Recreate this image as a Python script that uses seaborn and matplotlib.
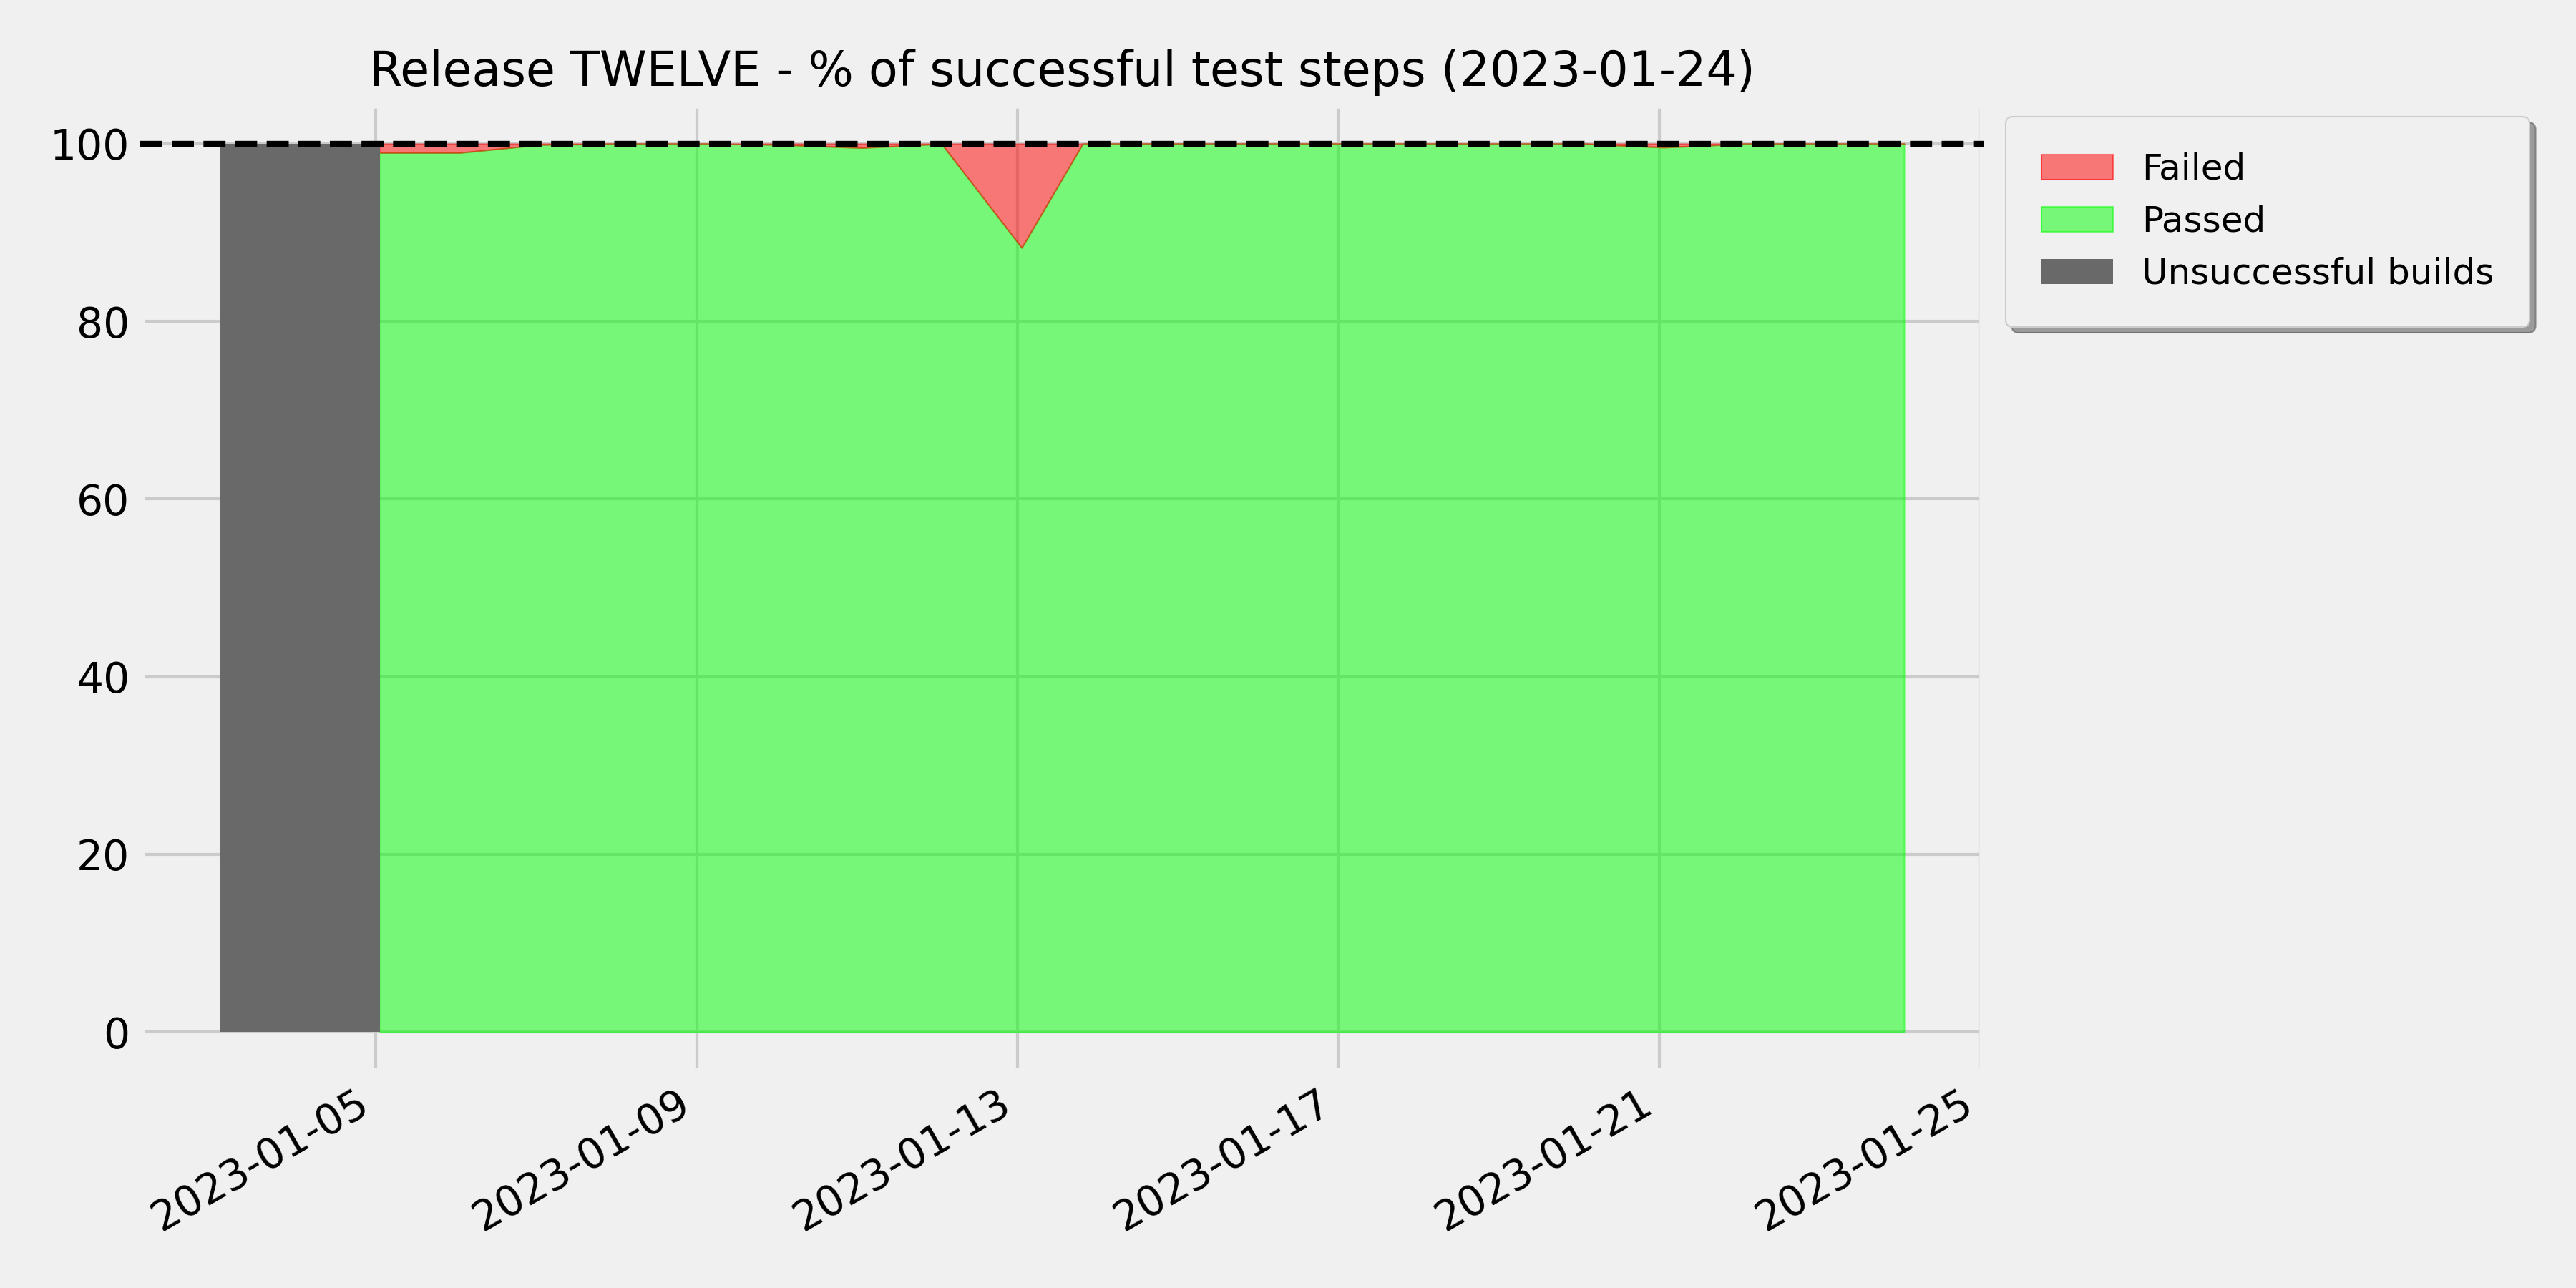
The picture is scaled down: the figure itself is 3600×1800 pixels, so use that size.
import pandas as pd
import numpy as np
import matplotlib
matplotlib.use("Agg")
import matplotlib.pyplot as plt
import matplotlib.dates as mdates
import seaborn as sns

# Test-step results per nightly run (% of steps)
run_dates = ["2023-01-05 01:15", "2023-01-06 01:15", "2023-01-07 01:15", "2023-01-08 01:15",
             "2023-01-09 01:15", "2023-01-10 01:15", "2023-01-11 01:15", "2023-01-12 01:15",
             "2023-01-13 01:15", "2023-01-13 19:30", "2023-01-15 01:15", "2023-01-16 01:15",
             "2023-01-17 01:15", "2023-01-18 01:15", "2023-01-19 01:15", "2023-01-20 01:15",
             "2023-01-21 01:15", "2023-01-22 01:15", "2023-01-23 01:15", "2023-01-24 01:15"]
passed_pct = [99.0, 99.0, 99.9, 100.0, 100.0, 99.9, 99.55, 100.0, 88.3, 100.0,
              100.0, 100.0, 100.0, 100.0, 100.0, 100.0, 99.6, 100.0, 100.0, 100.0]
failed_pct = [1.0, 1.0, 0.1, 0.0, 0.0, 0.1, 0.45, 0.0, 11.7, 0.0,
              0.0, 0.0, 0.0, 0.0, 0.0, 0.0, 0.4, 0.0, 0.0, 0.0]

# Days where the build itself failed
bad_build_dates = ["2023-01-03 01:15", "2023-01-04 01:15", "2023-01-05 01:15"]
bad_build_pct = [100, 100, 100]

release = "TWELVE"
report_day = "2023-01-24"
x_range = ("2023-01-02 01:30", "2023-01-25 01:00")

df = pd.DataFrame({"date": pd.to_datetime(run_dates), "Passed": passed_pct, "Failed": failed_pct})
bad = pd.DataFrame({"date": pd.to_datetime(bad_build_dates), "pct": bad_build_pct})

sns.set_theme(style="darkgrid", rc={
    "axes.facecolor": "#f0f0f0", "figure.facecolor": "#f0f0f0", "savefig.facecolor": "#f0f0f0",
    "axes.edgecolor": "#f0f0f0", "axes.linewidth": 3.0,
    "grid.color": "#cbcbcb", "grid.linewidth": 1.0, "grid.linestyle": "-",
    "font.size": 14, "xtick.labelsize": 14, "ytick.labelsize": 14,
    "axes.titlesize": 16, "legend.fontsize": 12,
    "xtick.major.size": 0, "ytick.major.size": 0,
    "patch.linewidth": 0.5, "patch.force_edgecolor": False,
    "legend.fancybox": True, "axes.axisbelow": True,
    "text.color": "black", "xtick.color": "black", "ytick.color": "black",
})

fig, ax = plt.subplots(figsize=(12, 6))
fig.subplots_adjust(left=0.0544, right=0.770, bottom=0.1678, top=0.9194)

colors = ["lime", "red"]
polys = ax.stackplot(df["date"], df["Passed"], df["Failed"], colors=colors, alpha=0.5,
                     labels=["Passed", "Failed"])
for p, c in zip(polys, colors):
    p.set_edgecolor(c)
    p.set_linewidth(0.5)

gray = ax.fill_between(bad["date"], 0, bad["pct"], color="dimgray", linewidth=0,
                       label="Unsuccessful builds")

ax.axhline(100, color="black", linestyle="--", linewidth=2, zorder=5)
ax.set_xlim(pd.to_datetime(x_range[0]), pd.to_datetime(x_range[1]))
ax.set_ylim(-4.5, 104.5)

ax.xaxis.set_major_locator(mdates.DayLocator(bymonthday=range(1, 32, 4)))
ax.xaxis.set_major_formatter(mdates.DateFormatter("%Y-%m-%d"))
plt.setp(ax.get_xticklabels(), rotation=30, ha="right")

ax.set_title(f"Release {release} - % of successful test steps ({report_day})")

ax.legend([polys[1], polys[0], gray], ["Failed", "Passed", "Unsuccessful builds"],
          loc="upper left", bbox_to_anchor=(1.012, 0.987), borderaxespad=0,
          borderpad=1.0, shadow=True, fancybox=True)

fig.savefig("out.png", dpi=300)
